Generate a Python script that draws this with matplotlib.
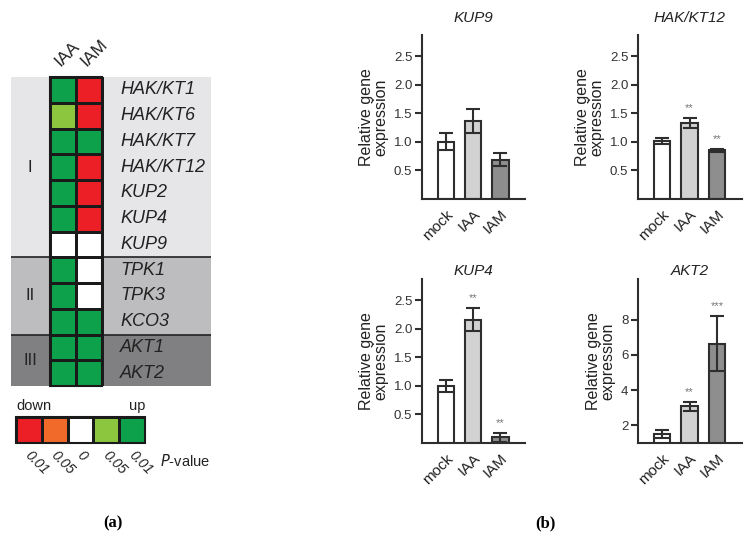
import numpy as np
import matplotlib
matplotlib.use("Agg")
import matplotlib.pyplot as plt
from matplotlib.colors import ListedColormap, BoundaryNorm

plt.rcParams['font.family'] = ['Liberation Sans', 'DejaVu Sans']

# ---- data (a) heatmap ----
genes = ['HAK/KT1', 'HAK/KT6', 'HAK/KT7', 'HAK/KT12', 'KUP2', 'KUP4', 'KUP9',
         'TPK1', 'TPK3', 'KCO3', 'AKT1', 'AKT2']
treatments = ['IAA', 'IAM']
# -2 down p<0.01, -1 down p<0.05, 0 n.s., 1 up p<0.05, 2 up p<0.01
iaa_code = [2, 1, 2, 2, 2, 2, 0, 2, 2, 2, 2, 2]
iam_code = [-2, -2, 2, -2, -2, -2, 0, 0, 0, 2, 2, 2]
groups = ['I', 'II', 'III']
group_sizes = [7, 3, 2]
legend_codes = [-2, -1, 0, 1, 2]
legend_labels = ['0.01', '0.05', '0', '0.05', '0.01']

# ---- data (b) bar charts ----
conditions = ['mock', 'IAA', 'IAM']
kup9_mean = [1.00, 1.37, 0.69]
kup9_err = [0.15, 0.21, 0.12]
hak12_mean = [1.01, 1.33, 0.85]
hak12_err = [0.05, 0.09, 0.02]
kup4_mean = [1.00, 2.16, 0.10]
kup4_err = [0.10, 0.20, 0.08]
akt2_mean = [1.53, 3.07, 6.63]
akt2_err = [0.22, 0.24, 1.55]
hak12_sig = ['', '**', '**']
kup9_sig = ['', '', '']
kup4_sig = ['', '**', '**']
akt2_sig = ['', '**', '***']

W, H = 754, 540
fig = plt.figure(figsize=(W / 100, H / 100), dpi=100)


def px_axes(left, top, right, bottom):
    # axes placed by pixel box
    return fig.add_axes([left / W, 1 - bottom / H, (right - left) / W, (bottom - top) / H])


heat_colors = ['#ec1f26', '#f26a2a', '#ffffff', '#8cc63f', '#0ea14b']
cmap = ListedColormap(heat_colors)
norm = BoundaryNorm([-2.5, -1.5, -0.5, 0.5, 1.5, 2.5], cmap.N)
edge = '#1a1a1a'

# ---- heatmap ----
ax = px_axes(11, 77, 211, 386)
mat = np.array([iaa_code, iam_code]).T
cell_w = 26.0
ax.set_xlim(-(50 - 11) / cell_w, (211 - 50) / cell_w)
ax.set_ylim(len(genes), 0)
band_cols = ['#e6e6e8', '#bdbdbf', '#808082']
start = 0
for g, n, c in zip(groups, group_sizes, band_cols):
    ax.axhspan(start, start + n, color=c, zorder=0, lw=0)
    ax.text(-0.77, start + n / 2, g, ha='center', va='center', fontsize=12, color='#222')
    if start > 0:
        ax.axhline(start, color='#222', lw=1.2, zorder=1)
    start += n
ax.pcolormesh(np.arange(3), np.arange(len(genes) + 1), mat, cmap=cmap, norm=norm,
              edgecolors=edge, linewidth=1.0, zorder=2)
ax.add_patch(plt.Rectangle((0, 0), 2, len(genes), fill=False, ec=edge, lw=1.5, zorder=3,
                           clip_on=False))
for i, g in enumerate(genes):
    ax.text(2.69, i + 0.5, g, ha='left', va='center', fontsize=13, style='italic', color='#222')
for j, t in enumerate(treatments):
    ax.text(j + 0.48, -0.3, t, rotation=45, rotation_mode='anchor', ha='left', va='bottom',
            fontsize=12.5, color='#222', clip_on=False)
ax.axis('off')

# ---- heatmap legend ----
lax = px_axes(16, 417, 145, 443)
lax.pcolormesh(np.arange(6), np.arange(2), np.array([legend_codes]), cmap=cmap, norm=norm,
               edgecolors=edge, linewidth=1.0)
lax.add_patch(plt.Rectangle((0, 0), 5, 1, fill=False, ec=edge, lw=1.5, clip_on=False))
lax.set_xlim(0, 5)
lax.set_ylim(0, 1)
lax.axis('off')
lax.text(0, 1.15, 'down', ha='left', va='bottom', fontsize=10.5, color='#222')
lax.text(5, 1.15, 'up', ha='right', va='bottom', fontsize=10.5, color='#222')
for k, lab in enumerate(legend_labels):
    lax.text(k + 0.45, -0.4, lab, rotation=-45, rotation_mode='anchor', ha='left',
             va='center', fontsize=10, style='italic', color='#222')
lax.text(5.6, -0.7, r'$\it{P}$-value', ha='left', va='center', fontsize=10.5, color='#222')

fig.text(113 / W, 1 - 523 / H, '(a)', ha='center', va='center', fontsize=12,
         fontweight='bold', family='Liberation Serif')
fig.text(545 / W, 1 - 523 / H, '(b)', ha='center', va='center', fontsize=12,
         fontweight='bold', family='Liberation Serif')

# ---- bar panels ----
bar_fill = ['#ffffff', '#d2d2d2', '#8e8e8e']
dark = '#2e2e2e'


def bar_panel(box, title, mean, err, sig, ylim, yticks, yticklabels, title_pad):
    ax = px_axes(*box)
    x = np.arange(len(conditions))
    ax.bar(x, mean, width=0.6, color=bar_fill, edgecolor=dark, linewidth=1.5, zorder=2)
    ax.errorbar(x, mean, yerr=err, fmt='none', ecolor=dark, elinewidth=1.5, capsize=5,
                capthick=1.5, zorder=3)
    span = ylim[1] - ylim[0]
    for xi, m, e, s in zip(x, mean, err, sig):
        if s:
            ax.text(xi, m + e + 0.03 * span, s, ha='center', va='bottom', fontsize=8,
                    color='#777777')
    ax.set_xlim(-0.87, 2.9)
    ax.set_ylim(*ylim)
    ax.set_yticks(yticks)
    ax.set_yticklabels(yticklabels, fontsize=9.5, color='#333')
    ax.set_xticks(x)
    ax.set_xticklabels(conditions, rotation=45, ha='right', rotation_mode='anchor',
                       fontsize=11, color='#222')
    ax.tick_params(axis='x', length=0, pad=6)
    ax.tick_params(axis='y', length=5, width=1.5, color=dark, pad=2)
    for sp in ['top', 'right']:
        ax.spines[sp].set_visible(False)
    for sp in ['left', 'bottom']:
        ax.spines[sp].set_linewidth(1.5)
        ax.spines[sp].set_color(dark)
    ax.set_ylabel('Relative gene\nexpression', fontsize=11.5, color='#222', labelpad=4,
                  linespacing=0.95)
    ax.set_title(title, style='italic', fontsize=11, color='#222', pad=title_pad)
    return ax


small_ticks = [0.5, 1.0, 1.5, 2.0, 2.5]
small_labels = ['0.5', '1.0', '1.5', '2.0', '2.5']
bar_panel((422, 35, 525, 199), 'KUP9', kup9_mean, kup9_err, kup9_sig, (0, 2.87),
          small_ticks, small_labels, 9.5)
bar_panel((638, 35, 742, 199), 'HAK/KT12', hak12_mean, hak12_err, hak12_sig, (0, 2.87),
          small_ticks, small_labels, 9.5)
bar_panel((422, 279, 525, 443), 'KUP4', kup4_mean, kup4_err, kup4_sig, (0, 2.87),
          small_ticks, small_labels, 3)
bar_panel((638, 279, 742, 443), 'AKT2', akt2_mean, akt2_err, akt2_sig, (1, 10.3),
          [2, 4, 6, 8], ['2', '4', '6', '8'], 3)

fig.savefig('out.png', dpi=100)
